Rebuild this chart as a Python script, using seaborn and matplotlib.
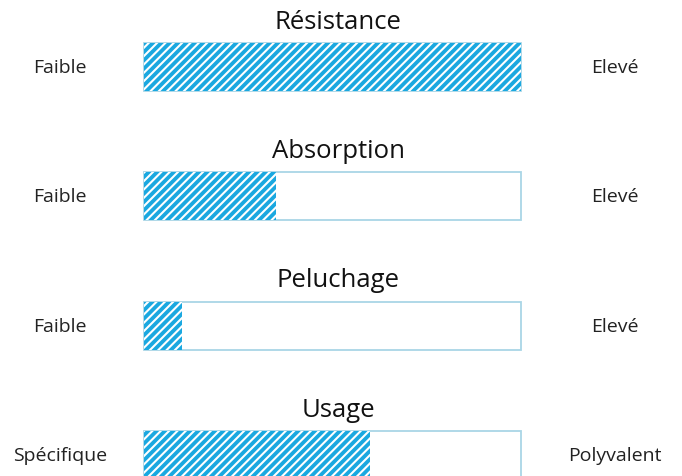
import matplotlib
matplotlib.use("Agg")
import matplotlib.pyplot as plt
import seaborn as sns
import pandas as pd

categories = ["Résistance", "Absorption", "Peluchage", "Usage"]
values = [100, 35, 10, 60]
left_labels = ["Faible", "Faible", "Faible", "Spécifique"]
right_labels = ["Elevé", "Elevé", "Elevé", "Polyvalent"]
max_value = 100

sns.set_theme(style="white")
plt.rcParams["font.family"] = ["Open Sans", "DejaVu Sans"]
plt.rcParams["hatch.linewidth"] = 1.5

fig = plt.figure(figsize=(6.82, 4.77), dpi=100)
ax = fig.add_axes([0, 0, 1, 1])

df = pd.DataFrame({"cat": categories, "val": values, "full": [max_value] * len(categories)})

sns.barplot(data=df, x="full", y="cat", orient="h", width=0.37, color="white",
            saturation=1, edgecolor="#a9d6e6", linewidth=1.3, ax=ax)
n_bg = len(ax.patches)
sns.barplot(data=df, x="val", y="cat", orient="h", width=0.37, color="#1aa8e0",
            saturation=1, ax=ax)
for p in ax.patches[n_bg:]:
    p.set_hatch("////")
    p.set_edgecolor("white")
    p.set_linewidth(0)

for i, (cat, ll, rl) in enumerate(zip(categories, left_labels, right_labels)):
    ax.text(51.5, i - 0.355, cat, ha="center", va="center", fontsize=18.5, color="#111111")
    ax.text(-22.3, i, ll, ha="center", va="center", fontsize=14, color="#222222")
    ax.text(125, i, rl, ha="center", va="center", fontsize=14, color="#222222")

ax.set_xlim(-38.2, 142.7)
ax.set_ylim(3.163, -0.526)
ax.axis("off")

fig.savefig("out.png", dpi=100)
